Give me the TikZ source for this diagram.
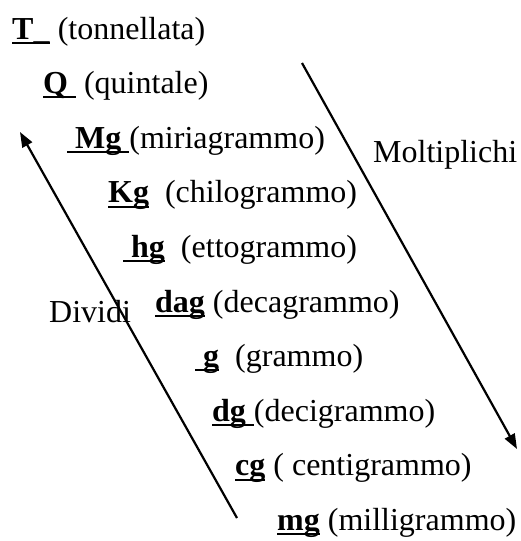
\documentclass[tikz,border=0pt]{standalone}
\usepackage{fontspec}
\setmainfont{Liberation Serif}
\usetikzlibrary{arrows.meta}

\newcommand{\ulbold}[1]{\setbox0\hbox{\textbf{#1}}\rlap{\rule[-0.15em]{\wd0}{0.065em}}\box0\relax}

\begin{document}
\begin{tikzpicture}[
    x=1pt, y=-1pt,
    every node/.style={font=\fontsize{32}{38}\selectfont, inner sep=0pt, anchor=base west},
    arrow/.style={-{Triangle[length=15pt, width=11pt]}, line width=2.2pt}
]
\useasboundingbox (0,0) rectangle (520,541);

% Units
\node (t) at (12,39) {\ulbold{T\_} (tonnellata)};
\node (q) at (43,93.6) {\ulbold{Q\ } (quintale)};
\node (mya) at (67,148.2) {\ulbold{\ Mg\ }(miriagrammo)};
\node (kg) at (108,202.8) {\ulbold{Kg}\ \ (chilogrammo)};
\node (hg) at (123,257.4) {\ulbold{\ hg}\ \ (ettogrammo)};
\node (dag) at (155,312) {\ulbold{dag} (decagrammo)};
\node (g) at (195,366.6) {\ulbold{\ g}\ \ (grammo)};
\node (dg) at (212,421.2) {\ulbold{dg\ }(decigrammo)};
\node (cg) at (235,475.8) {\ulbold{cg} ( centigrammo)};
\node (mg) at (277,530.4) {\ulbold{mg} (milligrammo)};

% Arrows
\coordinate (molttop) at (302,63);
\coordinate (moltend) at (517,449);
\coordinate (divstart) at (237,518);
\coordinate (divend) at (20,132);
\draw [arrow] (molttop) -- (moltend);
\draw [arrow] (divstart) -- (divend);

% Labels
\node (molt) at (373,162) {Moltiplichi};
\node (divi) at (49,322) {Dividi};

\end{tikzpicture}
\end{document}
